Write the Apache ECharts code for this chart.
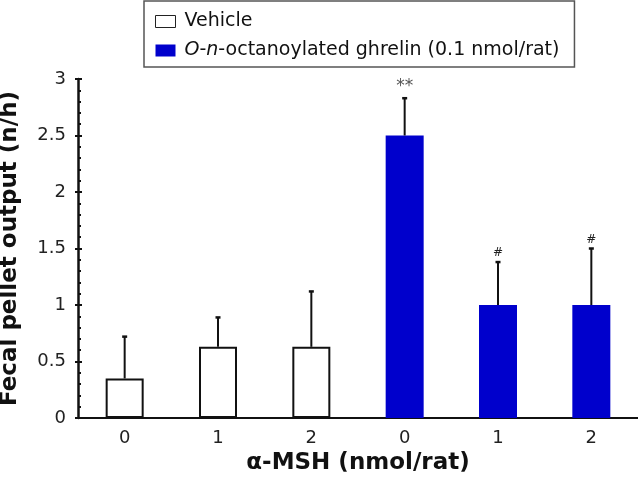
<!DOCTYPE html>
<html>
<head>
<meta charset="utf-8">
<script src="https://cdn.jsdelivr.net/npm/echarts@6/dist/echarts.min.js"></script>
<style>html,body{margin:0;padding:0;background:#fff}#c{width:638px;height:484px}</style>
</head>
<body>
<div id="c"></div>
<script>
var categories = ['V0', 'V1', 'V2', 'G0', 'G1', 'G2'];
var doseLabels = ['0', '1', '2', '0', '1', '2'];
var vehicleMean = [0.35, 0.63, 0.63, null, null, null];
var ghrelinMean = [null, null, null, 2.5, 1.0, 1.0];
var semUpper = [0.37, 0.26, 0.49, 0.33, 0.38, 0.50];
var marks = ['', '', '', '**', '#', '#'];
var yTicks = [0, 0.5, 1, 1.5, 2, 2.5, 3];

var FONT = 'DejaVu Sans, Liberation Sans, Arial, sans-serif';
var chart = echarts.init(document.getElementById('c'));

var errData = categories.map(function (c, i) {
  var m = vehicleMean[i] != null ? vehicleMean[i] : ghrelinMean[i];
  return [i, m, m + semUpper[i], marks[i]];
});

chart.setOption({
  animation: false,
  textStyle: { fontFamily: FONT },
  grid: { left: 78, right: 0, top: 79, bottom: 66, outerBoundsMode: 'none', containLabel: false },
  legend: {
    orient: 'vertical',
    left: 144,
    top: 1,
    padding: [10, 15, 6, 11],
    itemGap: 8,
    itemWidth: 20,
    itemHeight: 12,
    icon: 'rect',
    borderColor: '#555',
    borderWidth: 1.5,
    textStyle: {
      fontFamily: FONT, fontSize: 19, color: '#111', lineHeight: 21, padding: [0, 0, 0, 4],
      rich: {
        i: { fontFamily: FONT, fontSize: 19, fontStyle: 'italic', color: '#111', lineHeight: 21 },
        n: { fontFamily: FONT, fontSize: 19, color: '#111', lineHeight: 21 }
      }
    },
    data: [
      { name: 'Vehicle', itemStyle: { color: '#fff', borderColor: '#222', borderWidth: 1 } },
      { name: 'Ghrelin', itemStyle: { color: '#0000CC', borderWidth: 0 } }
    ],
    formatter: function (name) {
      if (name === 'Ghrelin') return '{i|O}{n|-}{i|n}{n|-octanoylated ghrelin (0.1 nmol/rat)}';
      return name;
    }
  },
  xAxis: {
    type: 'category',
    data: categories,
    axisLine: { lineStyle: { color: '#111', width: 2 } },
    axisTick: { show: false },
    axisLabel: {
      fontSize: 18, color: '#222', margin: 11,
      formatter: function (v, i) { return doseLabels[i]; }
    },
    name: 'α-MSH (nmol/rat)',
    nameLocation: 'middle',
    nameGap: 30,
    nameTextStyle: { fontSize: 23, fontWeight: 'bold', color: '#111' }
  },
  yAxis: [{
    type: 'value',
    min: 0, max: 3, interval: 0.5,
    splitLine: { show: false },
    axisLine: { show: true, lineStyle: { color: '#111', width: 2.5 } },
    axisTick: { show: true, inside: true, length: 4, lineStyle: { color: '#111', width: 2 } },
    minorTick: { show: true, splitNumber: 5, length: 3, lineStyle: { color: '#111', width: 2 } },
    axisLabel: {
      fontSize: 18, color: '#222', margin: 12,
      formatter: function (v) { return yTicks.indexOf(v) >= 0 ? String(v) : ''; }
    },
    name: 'Fecal pellet output (n/h)',
    nameLocation: 'middle',
    nameGap: 56,
    nameTextStyle: { fontSize: 23, fontWeight: 'bold', color: '#111' }
  }, {
    type: 'value',
    position: 'left',
    min: 0, max: 3, interval: 0.5,
    splitLine: { show: false },
    axisLine: { show: false },
    axisTick: { show: true, inside: false, length: 3, lineStyle: { color: '#111', width: 2 } },
    axisLabel: { show: false }
  }],
  series: [
    {
      name: 'Vehicle', type: 'bar', data: vehicleMean, barWidth: 38, barGap: '-100%',
      itemStyle: { color: '#fff', borderColor: '#111', borderWidth: 2 }
    },
    {
      name: 'Ghrelin', type: 'bar', data: ghrelinMean, barWidth: 38, barGap: '-100%',
      itemStyle: { color: '#0000CC' }
    },
    {
      name: 'err', type: 'custom', data: errData, z: 5,
      renderItem: function (params, api) {
        var x = api.value(0);
        var p0 = api.coord([x, api.value(1)]);
        var p1 = api.coord([x, api.value(2)]);
        var txt = marks[params.dataIndex];
        var kids = [
          { type: 'line', shape: { x1: p0[0], y1: p0[1], x2: p1[0], y2: p1[1] }, style: { stroke: '#111', lineWidth: 2 } },
          { type: 'line', shape: { x1: p1[0] - 2.5, y1: p1[1], x2: p1[0] + 2.5, y2: p1[1] }, style: { stroke: '#111', lineWidth: 2.5 } }
        ];
        if (txt) {
          var big = txt === '**';
          kids.push({
            type: 'text',
            style: {
              text: txt, x: p1[0], y: p1[1] - (big ? 3 : 3),
              align: 'center', verticalAlign: 'bottom',
              font: (big ? '17px ' : '12px ') + FONT,
              fill: big ? '#555' : '#222'
            }
          });
        }
        return { type: 'group', children: kids };
      }
    }
  ]
});
</script>
</body>
</html>
